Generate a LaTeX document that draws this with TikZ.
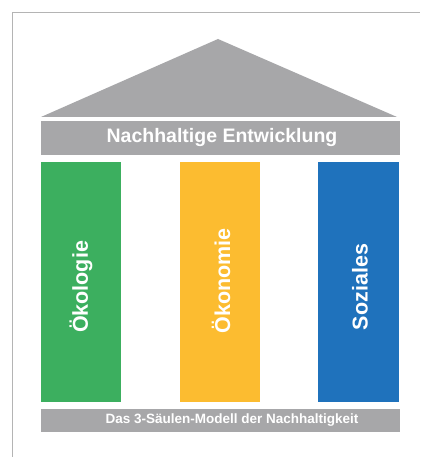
\documentclass[tikz,border=0pt]{standalone}
\usepackage{fontspec}
\setmainfont{Liberation Sans}
\definecolor{roofgrey}{HTML}{A7A7A9}
\definecolor{framegrey}{HTML}{B4B4B4}
\definecolor{pgreen}{HTML}{3CAF5F}
\definecolor{pyellow}{HTML}{FCBC30}
\definecolor{pblue}{HTML}{1F72BC}
\begin{document}
\begin{tikzpicture}[x=1pt,y=-1pt,
  band/.style={fill=roofgrey, inner sep=0pt, text=white, font=\bfseries},
  pillar/.style={inner sep=0pt, text=white, font=\fontsize{21.5}{24}\selectfont\bfseries}]
\useasboundingbox (0,0) rectangle (420,457);
\fill[white] (0,0) rectangle (420,457);
% frame
\draw[framegrey, line width=1pt] (12.5,457) -- (12.5,12.5) -- (420,12.5);
% roof
\fill[roofgrey] (41,117) -- (218,39) -- (397,117) -- cycle;
% entablature
\fill[roofgrey] (41,121) rectangle (400,155);
\node[band, fill=none, font=\fontsize{19.5}{22}\selectfont\bfseries] (top) at (222,138) {Nachhaltige Entwicklung};
% pillars
\fill[pgreen] (41,162) rectangle (121,402);
\fill[pyellow] (180,162) rectangle (260,402);
\fill[pblue] (318,162) rectangle (399,402);
\node[pillar, rotate=90] (oek) at (81,287) {Ökologie};
\node[pillar, rotate=90] (oen) at (221,281) {Ökonomie};
\node[pillar, rotate=90] (soz) at (360,287) {Soziales};
% base
\fill[roofgrey] (41,409) rectangle (400,432);
\node[band, fill=none, font=\fontsize{13.5}{16}\selectfont\bfseries] (base) at (232,420.5) {Das 3-Säulen-Modell der Nachhaltigkeit};
\end{tikzpicture}
\end{document}
